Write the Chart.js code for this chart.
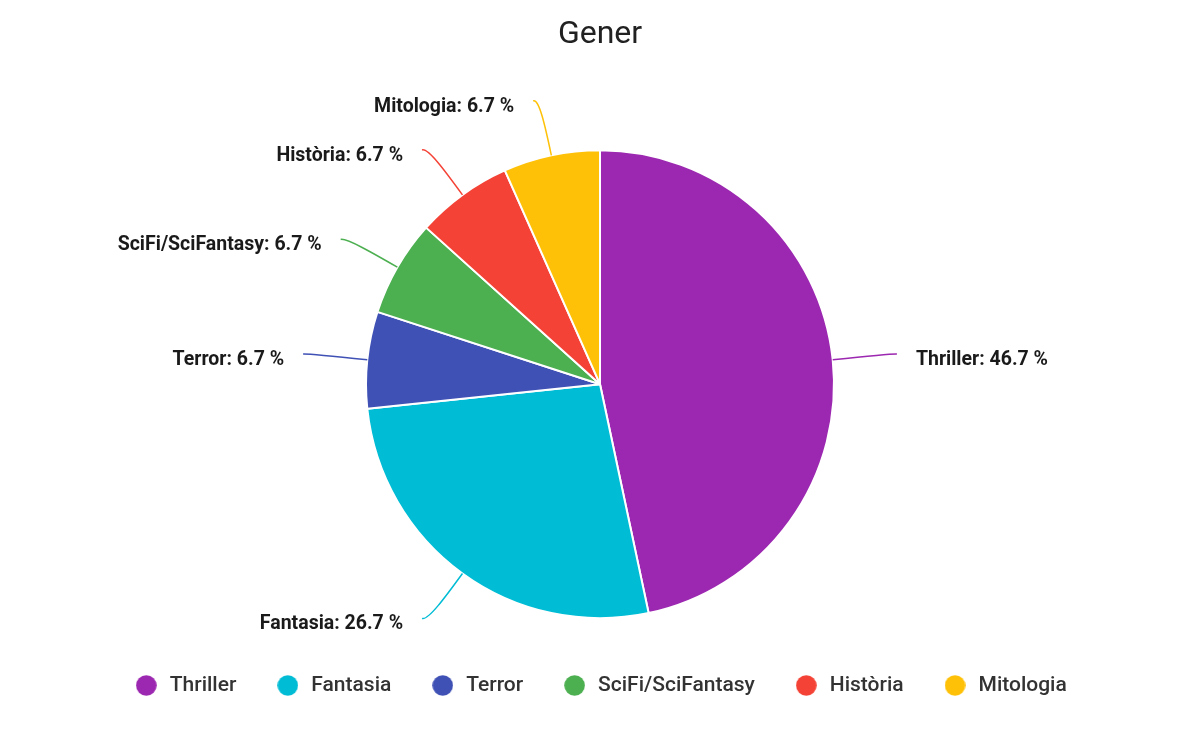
<!DOCTYPE html>
<html>
<head>
<meta charset="utf-8">
<script src="https://cdn.jsdelivr.net/npm/chart.js@4.4.1/dist/chart.umd.min.js"></script>
<style>
  html, body { margin: 0; padding: 0; background: #ffffff; }
  #wrap { width: 1200px; height: 731px; position: relative; }
</style>
</head>
<body>
<div id="wrap"><canvas id="c" width="1200" height="731"></canvas></div>
<script>
const titleText = "Gener";
const categories = ["Thriller", "Fantasia", "Terror", "SciFi/SciFantasy", "Història", "Mitologia"];
const counts = [7, 4, 1, 1, 1, 1];
const colors = ["#9c27b0", "#00bcd4", "#3f51b5", "#4caf50", "#f44336", "#ffc107"];

function dotCanvas(color) {
  const c = document.createElement('canvas');
  c.width = 21; c.height = 21;
  const g = c.getContext('2d');
  g.beginPath();
  g.arc(10.5, 10.5, 10.3, 0, Math.PI * 2);
  g.fillStyle = color;
  g.fill();
  return c;
}
const dots = colors.map(dotCanvas);

const leaderPlugin = {
  id: 'leaderLabels',
  afterDatasetsDraw(chart) {
    const ctx = chart.ctx;
    const meta = chart.getDatasetMeta(0);
    const data = chart.data.datasets[0].data;
    const total = data.reduce((a, b) => a + b, 0);
    ctx.save();
    meta.data.forEach((arc, i) => {
      const p = arc.getProps(['x', 'y', 'startAngle', 'endAngle', 'outerRadius'], true);
      const mid = (p.startAngle + p.endAngle) / 2;
      const r = p.outerRadius;
      const cos = Math.cos(mid), sin = Math.sin(mid);
      const right = cos >= 0;
      const sign = right ? 1 : -1;
      const sx = p.x + r * cos, sy = p.y + r * sin;
      const c1x = p.x + r * 1.12 * cos, c1y = p.y + r * 1.12 * sin;
      const ox = p.x + r * 1.25 * cos, oy = p.y + r * 1.25 * sin;
      const ex = ox + sign * 6, ey = oy - 3 * sin;
      ctx.beginPath();
      ctx.moveTo(sx, sy);
      ctx.bezierCurveTo(c1x, c1y, ox, oy, ex, ey);
      ctx.strokeStyle = colors[i];
      ctx.lineWidth = 1.5;
      ctx.stroke();
      const pct = (data[i] / total * 100).toFixed(1);
      ctx.font = "bold 19.5px Roboto";
      ctx.fillStyle = "#1a1a1a";
      ctx.textBaseline = "middle";
      ctx.textAlign = right ? "left" : "right";
      ctx.fillText(categories[i] + ": " + pct + " %", ex + sign * 19, ey + 6);
    });
    ctx.restore();
  }
};

new Chart(document.getElementById('c'), {
  type: 'pie',
  data: {
    labels: categories,
    datasets: [{
      data: counts,
      backgroundColor: colors,
      borderColor: "#ffffff",
      borderWidth: 2
    }]
  },
  options: {
    responsive: false,
    animation: false,
    radius: 234,
    layout: { padding: { top: 0, bottom: 25, left: 0, right: 0 } },
    plugins: {
      title: {
        display: true,
        text: titleText,
        color: "#212121",
        font: { family: "Roboto", size: 32, weight: "normal" },
        padding: { top: 16, bottom: 77.4 }
      },
      legend: {
        position: 'bottom',
        labels: {
          usePointStyle: true,
          boxHeight: 14.6,
          pointStyleWidth: 26,
          padding: 38.4,
          color: "#333333",
          font: { family: "Roboto", size: 21, weight: "500" },
          generateLabels(chart) {
            return chart.data.labels.map((label, i) => ({
              text: label,
              fillStyle: colors[i],
              strokeStyle: colors[i],
              lineWidth: 0,
              pointStyle: dots[i],
              fontColor: "#333333",
              hidden: false,
              index: i
            }));
          }
        }
      },
      tooltip: { enabled: false }
    }
  },
  plugins: [leaderPlugin]
});
</script>
</body>
</html>
